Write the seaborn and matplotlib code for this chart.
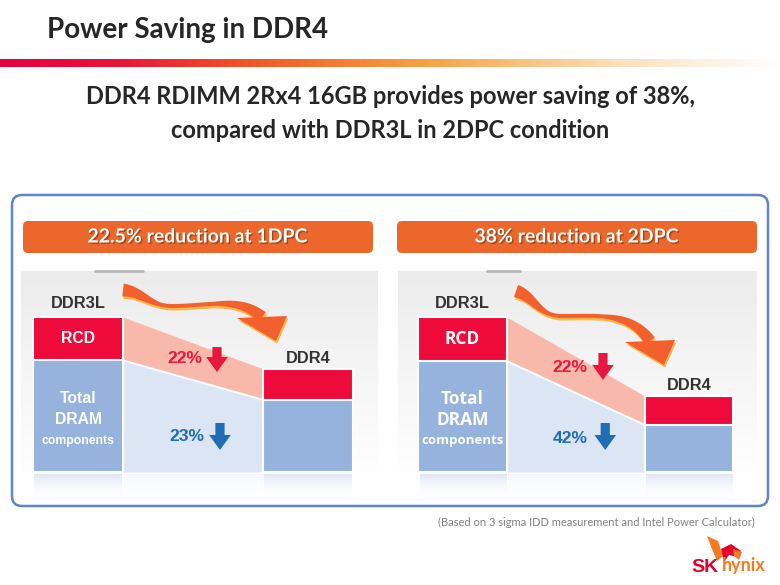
import numpy as np
import pandas as pd
import matplotlib
matplotlib.use('Agg')
import matplotlib.pyplot as plt
import matplotlib.patheffects as pe
import seaborn as sns
from matplotlib import font_manager
from matplotlib.colors import LinearSegmentedColormap, to_rgba
from matplotlib.patches import FancyBboxPatch, Polygon

# values (DDR3L total = 100)
memory = ['DDR3L', 'DDR4']
dram_1dpc = [72.0, 46.5]
rcd_1dpc = [28.0, 20.0]
dram_2dpc = [71.6, 30.3]
rcd_2dpc = [28.4, 18.7]
rcd_cut = ['22%', '22%']
dram_cut = ['23%', '42%']
banner_text = ['22.5% reduction at 1DPC', '38% reduction at 2DPC']

RED = '#ef0a3c'
BLUE = '#95b3dd'
PINK = '#f9b9aa'
PALE = '#dce5f3'
ORANGE = '#ec672b'
BW = 0.39

sns.set_theme(style='white')
names = {f.name for f in font_manager.fontManager.ttflist}
NARROW = 'Liberation Sans Narrow' if 'Liberation Sans Narrow' in names else 'Liberation Sans'
NS = 1.0 if NARROW == 'Liberation Sans Narrow' else 0.84
plt.rcParams['font.family'] = ['Lato', 'DejaVu Sans']

W, H = 780, 585
fig = plt.figure(figsize=(7.8, 5.85), dpi=100)


def px_axes(x0, y0, x1, y1):
    return fig.add_axes([x0 / W, 1 - y1 / H, (x1 - x0) / W, (y1 - y0) / H])


def vgrad(ax, x0, x1, y0, y1, c_top, c_bot, a_top=1, a_bot=1, z=0):
    n = 64
    top, bot = np.array(to_rgba(c_top)), np.array(to_rgba(c_bot))
    top[3], bot[3] = a_top, a_bot
    f = np.linspace(0, 1, n)[:, None]
    arr = (top * (1 - f) + bot * f)[:, None, :]
    ax.imshow(arr, extent=(x0, x1, y0, y1), origin='upper', aspect='auto',
              zorder=z, interpolation='bilinear')


# ---------- page background ----------
bg = px_axes(0, 0, W, H)
bg.set_xlim(0, W)
bg.set_ylim(H, 0)
bg.axis('off')

bg.text(47, 30, 'Power Saving in DDR4', fontsize=20, fontweight='bold', va='center')
stripe = LinearSegmentedColormap.from_list('stripe', [
    (0, '#e6003c'), (0.15, '#ea143a'), (0.33, '#f15a24'), (0.55, '#f6a444'),
    (0.8, '#fbe1be'), (1, '#ffffff')])
bg.imshow(np.linspace(0, 1, 256)[None, :], extent=(0, W, 67, 59), cmap=stripe, aspect='auto')
bg.text(390, 97, 'DDR4 RDIMM 2Rx4 16GB provides power saving of 38%,',
        fontsize=17, fontweight='bold', ha='center', va='center')
bg.text(390, 131, 'compared with DDR3L in 2DPC condition',
        fontsize=17, fontweight='bold', ha='center', va='center')

bg.add_patch(FancyBboxPatch((12, 195), 756, 311, boxstyle='round,pad=0,rounding_size=10',
                            fc='white', ec='#6084c4', lw=1.8))
for (x0, x1), txt in zip([(23, 373), (397, 757)], banner_text):
    bg.add_patch(FancyBboxPatch((x0, 221), x1 - x0, 32, boxstyle='round,pad=0,rounding_size=5',
                                fc=ORANGE, ec='none'))
    bg.text((x0 + x1) / 2, 237, txt, color='white', fontsize=14, fontweight='bold',
            ha='center', va='center',
            path_effects=[pe.SimplePatchShadow(offset=(1, -1), shadow_rgbFace='#7a2c08', alpha=0.6),
                          pe.Normal()])

bg.text(755, 522, '(Based on 3 sigma IDD measurement and Intel Power Calculator)',
        fontsize=8, color='#808080', ha='right', va='center')


# ---------- the two bar panels ----------
def draw_panel(rect, xlim, dram, rcd, cuts, face, pos):
    ax = px_axes(*rect)
    ylim = (-21.3, 129.7)
    df = pd.DataFrame({'memory': memory, 'dram': dram,
                       'total': [d + r for d, r in zip(dram, rcd)]})

    vgrad(ax, xlim[0], xlim[1], 0, ylim[1], '#ececec', '#fefefe', z=0)

    # connecting bands between the two bars
    xs = np.linspace(BW / 2, 1 - BW / 2, 50)
    dline = np.interp(xs, [BW / 2, 1 - BW / 2], df['dram'])
    tline = np.interp(xs, [BW / 2, 1 - BW / 2], df['total'])
    ax.fill_between(xs, dline, tline, color=PINK, lw=0, zorder=0.8)
    ax.fill_between(xs, 0, dline, color=PALE, lw=0, zorder=0.8)
    ax.plot(xs, dline, color='white', lw=1.5, zorder=0.9)

    sns.barplot(data=df, x='memory', y='total', color=RED, saturation=1, width=BW,
                errorbar=None, edgecolor='white', linewidth=1.5, ax=ax)
    sns.barplot(data=df, x='memory', y='dram', color=BLUE, saturation=1, width=BW,
                errorbar=None, edgecolor='white', linewidth=1.5, ax=ax)

    # faint reflection under the bars
    for i in range(2):
        vgrad(ax, i - BW / 2 + 0.005, i + BW / 2 - 0.005, -19, -2, BLUE, 'white', 0.3, 0, z=1)
    vgrad(ax, BW / 2 + 0.005, 1 - BW / 2 - 0.005, -19, -2, PALE, 'white', 0.3, 0, z=1)

    ax.set_xlim(xlim)
    ax.set_ylim(ylim)
    ax.axis('off')

    lab = dict(family=NARROW, fontweight='bold', color='#333333', ha='center', va='bottom')
    ax.text(0, df['total'][0] + 4, 'DDR3L', fontsize=14 * NS, **lab)
    ax.text(1, df['total'][1] + 2, 'DDR4', fontsize=14 * NS, **lab)

    inner = dict(family=face[0], fontweight='bold', color='white', ha='center', va='center')
    ax.text(0, dram[0] + rcd[0] / 2, 'RCD', fontsize=face[1], **inner)
    ax.text(0, dram[0] * 0.66, 'Total', fontsize=face[1], **inner)
    ax.text(0, dram[0] * 0.47, 'DRAM', fontsize=face[1], **inner)
    ax.text(0, dram[0] * 0.28, 'components', fontsize=face[2], **inner)

    for (tx, ty, axx, ay0, ay1), txt, col in zip(pos, cuts, ['#e8173f', '#1f6db5']):
        ax.text(tx, ty, txt, family=NARROW, fontweight='bold', fontsize=15 * NS,
                color=col, ha='center', va='center', zorder=5)
        ax.annotate('', xy=(axx, ay1), xytext=(axx, ay0), zorder=5,
                    arrowprops=dict(arrowstyle='simple,head_width=1.3,head_length=0.9,tail_width=0.55',
                                    mutation_scale=12, fc=col, ec='none', shrinkA=0, shrinkB=0))
    return ax


draw_panel((21, 271, 378, 505), (-0.248, 1.304), dram_1dpc, rcd_1dpc, rcd_cut[:1] + dram_cut[:1],
           (NARROW, 13.5 * NS, 10.5 * NS),
           [(0.465, 73.5, 0.604, 80.6, 64.5), (0.474, 22.6, 0.617, 31.6, 14.2)])
draw_panel((398, 271, 757, 505), (-0.285, 1.300), dram_2dpc, rcd_2dpc, rcd_cut[1:] + dram_cut[1:],
           ('Open Sans', 12.5, 9.5),
           [(0.475, 67.7, 0.62, 76.8, 59.4), (0.475, 21.9, 0.63, 31.6, 14.2)])

# ---------- overlay: curved arrows, tabs, logo ----------
fg = px_axes(0, 0, W, H)
fg.set_xlim(0, W)
fg.set_ylim(H, 0)
fg.patch.set_alpha(0)
fg.axis('off')


def ribbon(ax, pts, head):
    P = np.array(pts, float)
    t = np.linspace(0, 1, 40)[:, None]

    def bez(p0, p1, p2, p3):
        return (1 - t) ** 3 * p0 + 3 * (1 - t) ** 2 * t * p1 + 3 * (1 - t) * t ** 2 * p2 + t ** 3 * p3

    c = np.vstack([bez(*P[0:4]), bez(*P[3:7])[1:]])
    d = np.gradient(c, axis=0)
    d /= np.linalg.norm(d, axis=1)[:, None]
    n = np.column_stack([-d[:, 1], d[:, 0]])
    w = np.interp(np.linspace(0, 1, len(c)), [0, 0.4, 0.7, 1], [13, 4, 4, 12])
    shaft = np.vstack([c + n * w[:, None] / 2, (c - n * w[:, None] / 2)[::-1]])
    end = c[-1]
    tri = np.array([end + head[0], end + head[1], end + head[2]])
    for dx, dy, col in [(1.2, 2.5, '#fcb54a'), (0, 0, '#f2612d')]:
        off = np.array([dx, dy])
        ax.add_patch(Polygon(shaft + off, closed=True, fc=col, ec='none', zorder=3))
        ax.add_patch(Polygon(tri + off, closed=True, fc=col, ec='none', zorder=3))


head = [(-25, 1), (25, -1), (14, 24)]
ribbon(fg, [(123, 290), (143, 292), (150, 306), (172, 306), (210, 306), (238, 296), (262, 317)], head)
ribbon(fg, [(516, 291), (535, 297), (538, 316), (562, 316), (600, 316), (630, 312), (650, 341)], head)

fg.plot([95, 143], [271, 271], color='#b8b8b8', lw=2)
fg.plot([487, 520], [271, 271], color='#b8b8b8', lw=2)

# SK hynix logo
fg.add_patch(Polygon([(707, 536), (718, 541), (723, 556), (717, 561), (712, 549)], fc='#f47b20', ec='none'))
fg.add_patch(Polygon([(721, 549), (731, 544), (741, 551), (738, 557), (729, 555), (724, 562)],
                     fc='#e4002b', ec='none'))
fg.add_patch(Polygon([(733, 549), (742, 552), (739, 560), (734, 556)], fc='#f47b20', ec='none'))
fg.text(691, 567, 'SK', color='#e4002b', fontsize=14, fontweight='bold', family='Liberation Sans',
        va='center')
fg.text(722, 566, 'hynix', color='#f47b20', fontsize=13, fontweight='bold', family='Lato', va='center')

fig.savefig('out.png', dpi=100)
